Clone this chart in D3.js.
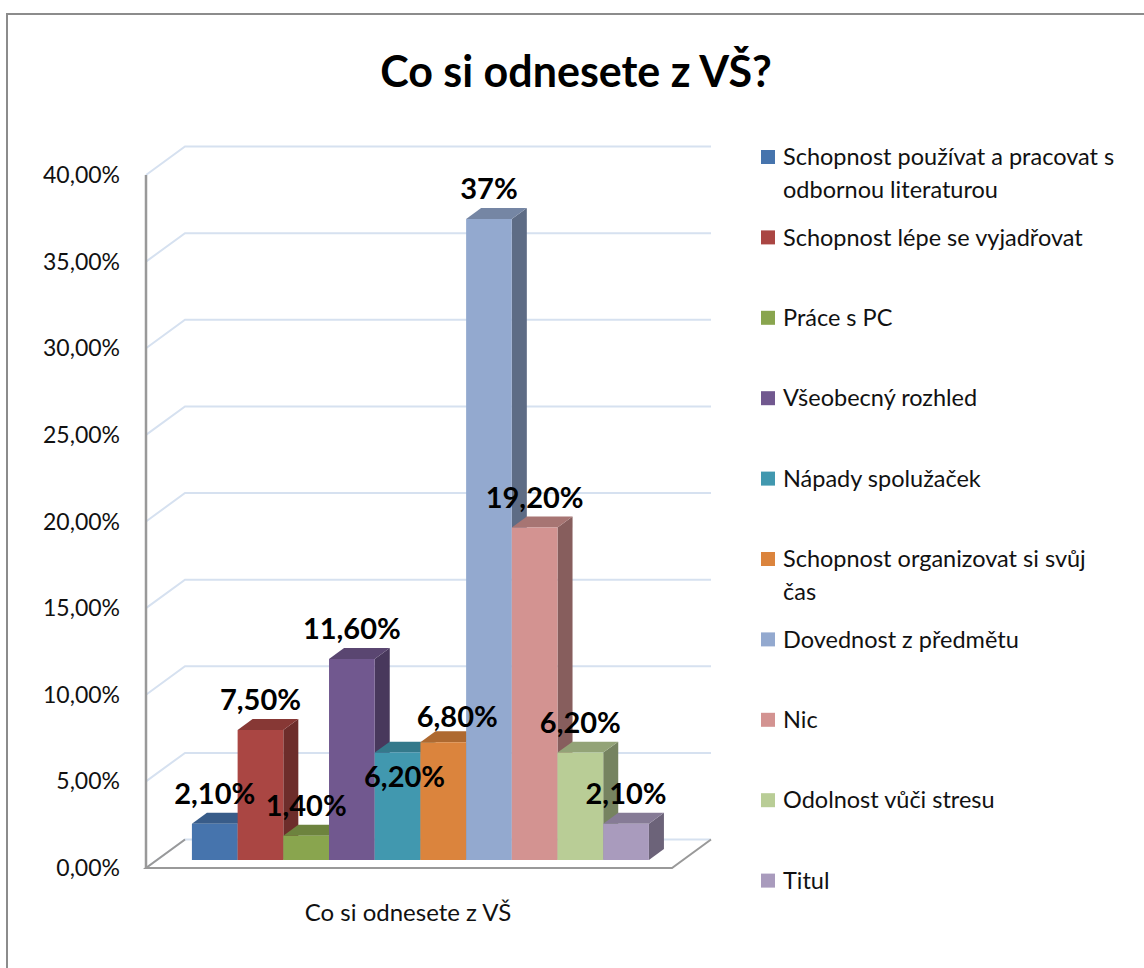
<!DOCTYPE html>
<meta charset="utf-8">
<style>
	body { margin:0; background:#fff; }
	svg { display:block; font-family: Lato, "Open Sans", sans-serif; }
</style>
<script src="https://d3js.org/d3.v7.min.js"></script>
<body>
<script>
	// data
	var categories = [
		"Schopnost používat a pracovat s odbornou literaturou",
		"Schopnost lépe se vyjadřovat",
		"Práce s PC",
		"Všeobecný rozhled",
		"Nápady spolužaček",
		"Schopnost organizovat si svůj čas",
		"Dovednost z předmětu",
		"Nic",
		"Odolnost vůči stresu",
		"Titul"
	];
	var values = [2.1, 7.5, 1.4, 11.6, 6.2, 6.8, 37, 19.2, 6.2, 2.1];
	var valueLabels = ["2,10%", "7,50%", "1,40%", "11,60%", "6,20%", "6,80%", "37%", "19,20%", "6,20%", "2,10%"];
	var colors = ["#4674ad", "#aa4643", "#89a54e", "#71588f", "#4198af", "#db843d", "#93a9cf", "#d39391", "#b9cd96", "#a99bbd"];
	var yTicks = [0, 5, 10, 15, 20, 25, 30, 35, 40];
	var title = "Co si odnesete z VŠ?";
	var axisTitle = "Co si odnesete z VŠ";

	var width = 1144, height = 968;
	var svg = d3.select("body").append("svg")
		.attr("width", width)
		.attr("height", height);

	// chart frame
	svg.append("rect")
		.attr("x", 7).attr("y", 14)
		.attr("width", 1160).attr("height", 1000)
		.attr("fill", "#fff")
		.attr("stroke", "#8c8c8c")
		.attr("stroke-width", 2);

	svg.append("text")
		.attr("x", 576).attr("y", 87)
		.attr("text-anchor", "middle")
		.attr("font-size", 43)
		.attr("font-weight", "bold")
		.text(title);

	// 3d plot box: front plane + depth vector
	var y = d3.scaleLinear().domain([0, 40]).range([868, 175]);
	var x0 = 146, x1 = 672;
	var depth = [39, -28.5];
	function proj(x, yy, t) { return [x + t * depth[0], yy + t * depth[1]]; }

	var grid = svg.append("g");
	// back wall + side wall gridlines
	yTicks.forEach(function(v) {
		var a = proj(x0, y(v), 0), b = proj(x0, y(v), 1), c = proj(x1, y(v), 1);
		grid.append("path")
			.attr("d", d3.line()([a, b, c]))
			.attr("fill", "none")
			.attr("stroke", "#d6e1f0")
			.attr("stroke-width", 2);
	});
	// floor
	var f = [proj(x0, y(0), 1), proj(x0, y(0), 0), proj(x1, y(0), 0), proj(x1, y(0), 1)];
	grid.append("path")
		.attr("d", d3.line()(f))
		.attr("fill", "none")
		.attr("stroke", "#999")
		.attr("stroke-width", 2);
	// vertical axis
	grid.append("line")
		.attr("x1", x0).attr("x2", x0)
		.attr("y1", y(40)).attr("y2", y(0))
		.attr("stroke", "#999")
		.attr("stroke-width", 2.5);

	var fmt = function(v) { return d3.format(".2f")(v).replace(".", ",") + "%"; };
	svg.append("g").selectAll("text")
		.data(yTicks)
		.enter().append("text")
		.attr("x", 120)
		.attr("y", function(d) { return y(d); })
		.attr("dy", "0.35em")
		.attr("text-anchor", "end")
		.attr("font-size", 23)
		.attr("fill", "#111")
		.text(fmt);

	// bars
	var xb = d3.scaleBand().domain(d3.range(values.length)).range([181, 638]).padding(0);
	var t0 = 0.28, t1 = 0.665;
	var bars = svg.append("g");
	values.forEach(function(v, i) {
		var xl = xb(i), xr = xl + xb.bandwidth();
		var yt = y(v), yb = y(0);
		var c = d3.color(colors[i]);
		var front = [proj(xl, yb, t0), proj(xl, yt, t0), proj(xr, yt, t0), proj(xr, yb, t0)];
		var top = [proj(xl, yt, t0), proj(xl, yt, t1), proj(xr, yt, t1), proj(xr, yt, t0)];
		var side = [proj(xr, yb, t0), proj(xr, yt, t0), proj(xr, yt, t1), proj(xr, yb, t1)];
		bars.append("path").attr("d", d3.line()(side) + "Z").attr("fill", c.darker(1.25));
		bars.append("path").attr("d", d3.line()(top) + "Z").attr("fill", c.darker(0.65));
		bars.append("path").attr("d", d3.line()(front) + "Z").attr("fill", colors[i]);
	});

	// data labels (two are nudged by excel to avoid overlap)
	var nudge = { 4: [7, 54], 5: [14, 5] };
	svg.append("g").selectAll("text")
		.data(values)
		.enter().append("text")
		.attr("x", function(d, i) {
			var p = proj(xb(i) + xb.bandwidth() / 2, y(d), t0);
			return p[0] + (nudge[i] ? nudge[i][0] : 0);
		})
		.attr("y", function(d, i) {
			var p = proj(xb(i) + xb.bandwidth() / 2, y(d), t0);
			return p[1] - 30 + (nudge[i] ? nudge[i][1] : 0);
		})
		.attr("dy", "0.35em")
		.attr("text-anchor", "middle")
		.attr("font-size", 29)
		.attr("font-weight", "bold")
		.text(function(d, i) { return valueLabels[i]; });

	svg.append("text")
		.attr("x", 408).attr("y", 913)
		.attr("dy", "0.35em")
		.attr("text-anchor", "middle")
		.attr("font-size", 24)
		.attr("fill", "#111")
		.text(axisTitle);

	// legend
	var legend = svg.append("g");
	var maxW = 336;
	categories.forEach(function(name, i) {
		var cy = 157 + i * 80.4;
		legend.append("rect")
			.attr("x", 761).attr("y", cy - 7)
			.attr("width", 14).attr("height", 14)
			.attr("fill", colors[i]);
		var txt = legend.append("text")
			.attr("x", 783).attr("y", cy)
			.attr("font-size", 23.5)
			.attr("fill", "#111");
		var words = name.split(" "), line = [];
		var ts = txt.append("tspan").attr("x", 783).attr("dy", "0.35em");
		words.forEach(function(w) {
			line.push(w);
			ts.text(line.join(" "));
			if (ts.node().getComputedTextLength() > maxW && line.length > 1) {
				line.pop();
				ts.text(line.join(" "));
				line = [w];
				ts = txt.append("tspan").attr("x", 783).attr("dy", 33).text(w);
			}
		});
	});
</script>
</body>
